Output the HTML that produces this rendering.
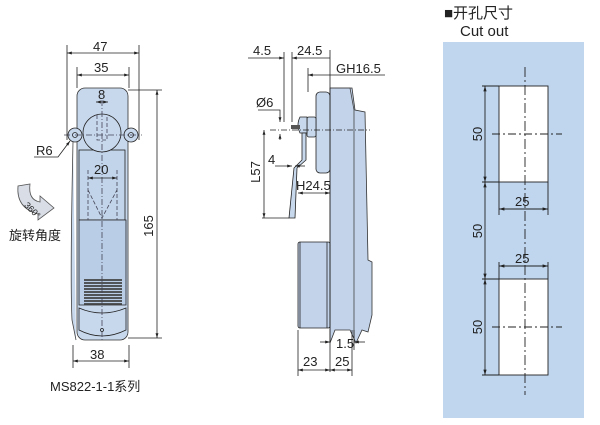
<!DOCTYPE html>
<html><head><meta charset="utf-8"><style>
html,body{margin:0;padding:0;background:#fff;width:600px;height:425px;overflow:hidden}
svg{display:block}
text{font-family:"Liberation Sans","Noto Sans CJK SC",sans-serif;fill:#222}
</style></head><body>
<svg width="600" height="425" viewBox="0 0 600 425" xmlns="http://www.w3.org/2000/svg">
<defs>
<marker id="a" viewBox="0 0 10 10" refX="10" refY="5" markerWidth="6" markerHeight="6" orient="auto-start-reverse"><path d="M0,2 L10,5 L0,8z" fill="#222"/></marker>
</defs>
<g stroke="#222" stroke-width="0.8" fill="none">
<!-- LEFT VIEW -->
<path d="M73,142 Q70,280 72,320 L76,340" stroke="#444" fill="#c8d8ec"/>
<rect x="77" y="88" width="51" height="252" rx="8" fill="#c8d8ec" stroke="#333"/>
<circle cx="75" cy="135" r="7" fill="#c8d8ec"/><circle cx="75" cy="135" r="2.5"/>
<circle cx="131" cy="135" r="7" fill="#c8d8ec"/><circle cx="131" cy="135" r="2.5"/>
<rect x="79" y="150" width="46" height="70" fill="#c2d4ea"/>
<circle cx="102" cy="133" r="19" fill="#c8d8ec"/>
<path d="M79,220 L126,220 L126,305 L79,305 Z" fill="#b9cde6"/>
<path d="M79,308 Q102,318 126,308 L126,330 Q102,342 79,330Z" fill="#c8d8ec"/>
<g stroke="#444">
<path d="M84,280h38M84,283h38M84,286h38M84,289h38M84,292h38M84,295h38M84,298h38M84,301h38M84,304h38" stroke-width="1.8"/>
</g>
<g stroke-dasharray="4,2" stroke="#445">
<path d="M88,170 V220 M117,170 V220 M88,190 L102,218 L117,190"/>
<path d="M97,115 V140 H107 V115"/>
<path d="M102,100 V340" stroke-dasharray="6,2,1,2"/>
<path d="M64,135 H142" stroke-dasharray="6,2,1,2"/>
</g>
<circle cx="102" cy="330" r="1.5"/>
<!-- left dims -->
<path d="M67,45 V140 M139,45 V140 M77,67 V88 M129,67 V88"/>
<path d="M67,53 H139" marker-start="url(#a)" marker-end="url(#a)"/>
<path d="M77,75 H129" marker-start="url(#a)" marker-end="url(#a)"/>
<path d="M96,102 H108" marker-start="url(#a)" marker-end="url(#a)"/>
<path d="M88,178 H117" marker-start="url(#a)" marker-end="url(#a)"/>
<path d="M128,90 H162 M128,338 H162"/>
<path d="M157,90 V338" marker-start="url(#a)" marker-end="url(#a)"/>
<path d="M73,345 V368 M129,345 V368"/>
<path d="M73,361 H129" marker-start="url(#a)" marker-end="url(#a)"/>
<path d="M34,157 H58 L70,141" marker-end="url(#a)"/>
<!-- rotation arrow -->
<path d="M18,186 Q16,208 38,214 L38,220 L54,208 L40,196 L40,202 Q28,200 30,184Z" fill="#d8dde6" stroke="#555"/>
<!-- MIDDLE VIEW -->
<path d="M330,88 L352,88 L355,110 L365,112 L368,260 L372,262 L372,315 L368,332 L362,330 L356,343 L350,330 L335,330 L330,343 Z" fill="#c2d3ea" stroke="#333"/>
<path d="M330,88 H350 L354,110 V343" stroke="#444"/>
<rect x="316" y="92" width="14" height="81" rx="4" fill="#c8d8ec"/>
<rect x="307" y="117" width="9" height="20" rx="2" fill="#c8d8ec"/>
<path d="M300,117 Q296,125 300,133 L307,133 V117Z" fill="#c8d8ec"/>
<path d="M291,127 H300" stroke-width="4" stroke="#555"/>
<path d="M302,133 L302,160 L294,168 L289,218 L295,218 L297,168 L306,160 L306,133Z" fill="#c8d8ec"/>
<rect x="298" y="242" width="32" height="86" rx="2" fill="#c2d3ea"/>
<path d="M300,242 V328 M327,242 V328"/>
<path d="M270,130 H370" stroke-dasharray="6,2,1,2"/>
<!-- middle dims -->
<path d="M330,50 V372 M284,52 V122 M292,52 V122 M308,68 V92"/>
<path d="M248,58 H284" marker-end="url(#a)"/>
<path d="M292,58 H330" marker-start="url(#a)"/>
<path d="M308,75 H385" marker-start="url(#a)"/>
<path d="M258,110 H280 V122" marker-end="url(#a)"/>
<path d="M280,140 V134" marker-end="url(#a)"/>
<path d="M264,130 V218" marker-start="url(#a)" marker-end="url(#a)"/>
<path d="M262,218 H289"/>
<path d="M275,166 H292" marker-end="url(#a)"/>
<path d="M305,166 H295" marker-end="url(#a)"/>
<path d="M298,193 H330" marker-start="url(#a)" marker-end="url(#a)"/>
<path d="M298,330 V376 M352,330 V376 M354,330 V350"/>
<path d="M298,370 H330" marker-start="url(#a)" marker-end="url(#a)"/>
<path d="M330,370 H352" marker-start="url(#a)" marker-end="url(#a)"/>
<path d="M320,342 H330" marker-end="url(#a)"/>
<path d="M365,342 H354" marker-end="url(#a)"/>
</g>
<!-- CUTOUT PANEL -->
<rect x="443" y="42" width="141" height="376" fill="#bfd6ee"/>
<g stroke="#222" stroke-width="0.9" fill="none">
<rect x="499" y="86" width="49" height="96" fill="#fff"/>
<rect x="499" y="279" width="49" height="96" fill="#fff"/>
<path d="M525,67 V395" stroke-dasharray="10,3,2,3"/>
<path d="M492,134 H562 M492,327 H562" stroke-dasharray="8,3,2,3"/>
<path d="M482,86 H499 M482,182 H499 M482,279 H499 M482,375 H499"/>
<path d="M485,86 V182" marker-start="url(#a)" marker-end="url(#a)"/>
<path d="M485,182 V279" marker-start="url(#a)" marker-end="url(#a)"/>
<path d="M485,279 V375" marker-start="url(#a)" marker-end="url(#a)"/>
<path d="M499,182 V215 M548,182 V215 M499,262 V279 M548,262 V279"/>
<path d="M499,209 H548" marker-start="url(#a)" marker-end="url(#a)"/>
<path d="M499,266 H548" marker-start="url(#a)" marker-end="url(#a)"/>
</g>
<g font-size="13">
<text x="93" y="51">47</text>
<text x="94" y="72">35</text>
<text x="98" y="99">8</text>
<text x="94" y="174">20</text>
<text x="36" y="155">R6</text>
<text x="90" y="359">38</text>
<text transform="translate(153,226) rotate(-90)" text-anchor="middle">165</text>
<text x="26" y="210" font-size="9" transform="rotate(45 30 205)">360°</text>
<text x="9" y="240">旋转角度</text>
<text x="50" y="391">MS822-1-1系列</text>
<text x="253" y="55">4.5</text>
<text x="297" y="55">24.5</text>
<text x="336" y="73">GH16.5</text>
<text x="256" y="107">Ø6</text>
<text x="268" y="164">4</text>
<text transform="translate(260,172) rotate(-90)" text-anchor="middle">L57</text>
<text x="296" y="190">H24.5</text>
<text x="336" y="348">1.5</text>
<text x="303" y="366">23</text>
<text x="335" y="366">25</text>
<text x="444" y="18" font-size="15">■开孔尺寸</text>
<text x="460" y="36" font-size="15">Cut out</text>
<text transform="translate(482,134) rotate(-90)" text-anchor="middle">50</text>
<text transform="translate(482,231) rotate(-90)" text-anchor="middle">50</text>
<text transform="translate(482,327) rotate(-90)" text-anchor="middle">50</text>
<text x="515" y="206">25</text>
<text x="515" y="263">25</text>
</g>
</svg>
</body></html>
